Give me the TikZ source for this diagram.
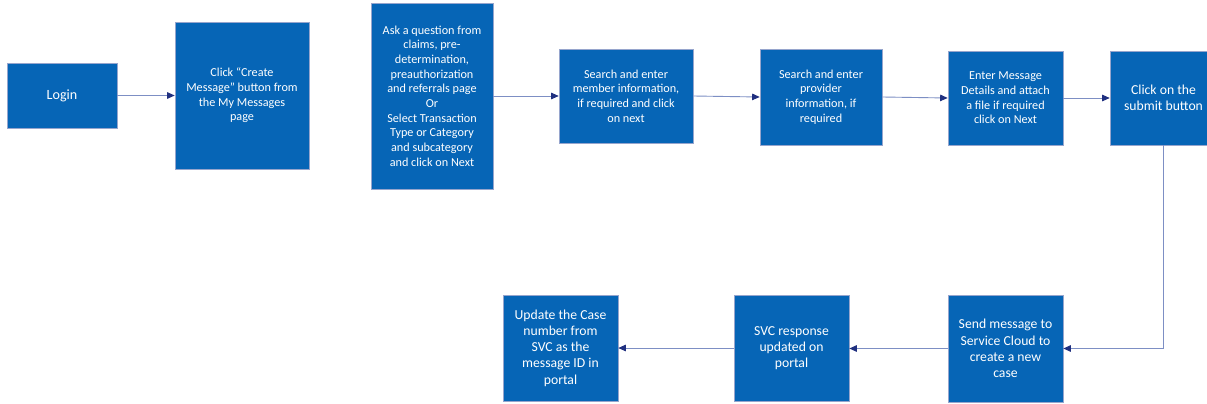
\documentclass[tikz,border=0pt]{standalone}
\usepackage{fontspec}
\setmainfont{Carlito}
\usetikzlibrary{arrows.meta}
\definecolor{flowblue}{RGB}{6, 101, 182}
\definecolor{flowedge}{RGB}{150, 165, 205}
\definecolor{flowline}{RGB}{125, 143, 196}
\definecolor{flownavy}{RGB}{32, 48, 128}

\begin{document}
\begin{tikzpicture}[
    x=1pt, y=-1pt,
    box/.style={rectangle, draw=flowedge, line width=0.6pt, fill=flowblue,
        text=white, align=center, inner sep=2pt,
        font=\fontsize{12.2}{14.7}\selectfont},
    bigbox/.style={box, font=\fontsize{13.7}{16.3}\selectfont},
    flow/.style={draw=flowline, line width=0.9pt,
        -{Triangle[length=7.5pt, width=6.5pt, color=flownavy]}}
]

\useasboundingbox (0,0) rectangle (1207,404);
\fill[white] (0,0) rectangle (1207,404);
\clip (0,0) rectangle (1207,404);

% === Top row ===
\node[bigbox, minimum width=110pt, minimum height=65pt, font=\fontsize{14.1}{17}\selectfont]
    (login) at (62,95.5) {Login};
\node[box, minimum width=134pt, minimum height=147pt] (create) at (242,95.5)
    {Click “Create\\Message” button from\\the My Messages\\page};
\node[box, minimum width=122pt, minimum height=186pt] (ask) at (432,96)
    {Ask a question from\\claims, pre-\\determination,\\preauthorization\\and referrals page\\Or\\Select Transaction\\Type or Category\\and subcategory\\and click on Next};
\node[box, minimum width=134pt, minimum height=94pt] (member) at (626,96)
    {Search and enter\\member information,\\if required and click\\on next};
\node[box, minimum width=122pt, minimum height=96pt] (provider) at (821,97)
    {Search and enter\\provider\\information, if\\required};
\node[box, minimum width=115pt, minimum height=94pt] (details) at (1005.5,98)
    {Enter Message\\Details and attach\\a file if required\\click on Next};
\node[bigbox, minimum width=107pt, minimum height=94pt] (submit) at (1163.5,98)
    {Click on the\\submit button};

% === Bottom row ===
\node[bigbox, minimum width=115pt, minimum height=107pt] (send) at (1005.5,348.5)
    {Send message to\\Service Cloud to\\create a new\\case};
\node[bigbox, minimum width=115pt, minimum height=106pt] (svc) at (791.5,348)
    {SVC response\\updated on\\portal};
\node[bigbox, minimum width=115pt, minimum height=106pt] (update) at (560.5,348)
    {Update the Case\\number from\\SVC as the\\message ID in\\portal};

% === Connectors ===
\draw[flow] (login) -- (create);
\draw[flow] (ask.east) -- (member.west);
\draw[flow] (member.east) -- (provider.west);
\draw[flow] (provider.east) -- (details.west);
\draw[flow] (details.east) -- (submit.west);
\draw[flow] (submit.south) |- (send.east);
\draw[flow] (send.west) -- (send.west -| svc.east);
\draw[flow] (svc.west) -- (svc.west -| update.east);

\end{tikzpicture}
\end{document}
